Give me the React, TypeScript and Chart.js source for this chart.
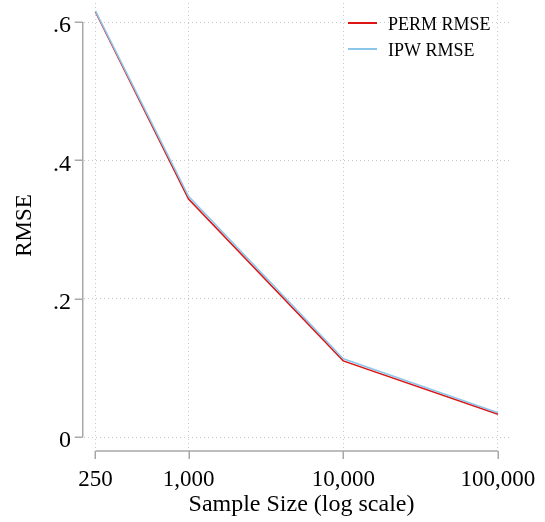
import React, { useEffect, useRef } from "react";
import { Chart, registerables } from "chart.js";

Chart.register(...registerables);

// ---- data ----
const sampleSizes = [250, 1000, 10000, 100000];
const permRmse = [0.615, 0.344, 0.110, 0.033];
const ipwRmse = [0.616, 0.348, 0.113, 0.035];
const xTickValues = [250, 1000, 10000, 100000];
const yTickValues = [0, 0.2, 0.4, 0.6];
const seriesLabels = ["PERM RMSE", "IPW RMSE"];
const seriesColors = ["#dc1414", "#8cc6ea"];
const xTitle = "Sample Size (log scale)";
const yTitle = "RMSE";

const FONT = "'Liberation Serif', 'Times New Roman', serif";
const AXIS_COLOR = "#a8a8a8";
const GRID_COLOR = "#c8c8c8";

const fmtY = (n: number) => (n === 0 ? "0" : n.toFixed(1).replace(/^0/, ""));

const stataPlugin = {
  id: "stataAxesLegend",
  afterDraw(chart: any) {
    const { ctx, chartArea } = chart;
    const x = chart.scales.x;
    const y = chart.scales.y;
    ctx.save();
    ctx.strokeStyle = AXIS_COLOR;
    ctx.lineWidth = 1.5;
    ctx.beginPath();
    const axX = chartArea.left - 1.25;
    ctx.moveTo(axX, y.getPixelForValue(yTickValues[yTickValues.length - 1]));
    ctx.lineTo(axX, y.getPixelForValue(yTickValues[0]));
    for (const v of yTickValues) {
      const py = Math.round(y.getPixelForValue(v)) + 0.25;
      ctx.moveTo(axX - 8, py);
      ctx.lineTo(axX, py);
    }
    const axY = chartArea.bottom + 3;
    ctx.moveTo(x.getPixelForValue(xTickValues[0]), axY);
    ctx.lineTo(x.getPixelForValue(xTickValues[xTickValues.length - 1]), axY);
    for (const v of xTickValues) {
      const px = Math.round(x.getPixelForValue(v)) + 0.25;
      ctx.moveTo(px, axY);
      ctx.lineTo(px, axY + 8);
    }
    ctx.stroke();

    // y tick labels (Stata places them slightly below the tick)
    ctx.fillStyle = "#000";
    ctx.font = `24px ${FONT}`;
    ctx.textAlign = "right";
    ctx.textBaseline = "middle";
    for (const v of yTickValues) {
      ctx.fillText(fmtY(v), chartArea.left - 13, y.getPixelForValue(v) + 4);
    }

    // x axis title
    ctx.font = `24px ${FONT}`;
    ctx.textAlign = "center";
    ctx.textBaseline = "middle";
    ctx.fillText(xTitle, (chartArea.left + chartArea.right) / 2 + 5, 505);

    // legend (inside plot, top right)
    const datasets = chart.data.datasets;
    ctx.font = `18px ${FONT}`;
    ctx.textBaseline = "alphabetic";
    ctx.textAlign = "left";
    const lineX0 = 348;
    const lineX1 = 377;
    datasets.forEach((ds: any, i: number) => {
      const ly = 23 + i * 26;
      ctx.strokeStyle = ds.borderColor;
      ctx.lineWidth = 2;
      ctx.beginPath();
      ctx.moveTo(lineX0, ly);
      ctx.lineTo(lineX1, ly);
      ctx.stroke();
      ctx.fillText(ds.label, 388, ly + 7);
    });
    ctx.restore();
  },
};

export default function App() {
  const canvasRef = useRef<HTMLCanvasElement | null>(null);

  useEffect(() => {
    if (!canvasRef.current) return;
    const mk = (vals: number[]) => sampleSizes.map((s, i) => ({ x: s, y: vals[i] }));
    const chart = new Chart(canvasRef.current, {
      type: "line",
      data: {
        datasets: [
          {
            label: seriesLabels[0],
            data: mk(permRmse),
            borderColor: seriesColors[0],
            backgroundColor: seriesColors[0],
            borderWidth: 1.6,
            pointRadius: 0,
            tension: 0,
            order: 1,
          },
          {
            label: seriesLabels[1],
            data: mk(ipwRmse),
            borderColor: seriesColors[1],
            backgroundColor: seriesColors[1],
            borderWidth: 1.6,
            pointRadius: 0,
            tension: 0,
            order: 0,
          },
        ],
      },
      options: {
        animation: false,
        responsive: false,
        maintainAspectRatio: false,
        devicePixelRatio: 1,
        layout: { padding: { top: 3, right: 36, left: 0, bottom: 0 } },
        plugins: {
          legend: { display: false },
          tooltip: { enabled: false },
        },
        scales: {
          x: {
            type: "logarithmic",
            min: 211,
            max: 117800,
            afterBuildTicks: (s: any) => {
              s.ticks = xTickValues.map((v) => ({ value: v }));
            },
            afterFit: (s: any) => {
              s.height = 74;
              s.paddingLeft = 0;
              s.paddingRight = 0;
            },
            grid: {
              color: GRID_COLOR,
              lineWidth: 1,
              drawTicks: false,
              tickLength: 0,
              borderDash: [1, 3],
            } as any,
            border: { display: false, dash: [1, 3] },
            ticks: {
              autoSkip: false,
              maxRotation: 0,
              minRotation: 0,
              padding: 18,
              color: "#000",
              font: { family: FONT, size: 23 },
              callback: (v: any) => Number(v).toLocaleString("en-US"),
            },
            title: { display: false },
          },
          y: {
            type: "linear",
            min: -0.0159,
            max: 0.6275,
            afterBuildTicks: (s: any) => {
              s.ticks = yTickValues.map((v) => ({ value: v }));
            },
            afterFit: (s: any) => {
              s.width = 84;
              s.paddingTop = 0;
              s.paddingBottom = 0;
            },
            grid: {
              color: GRID_COLOR,
              lineWidth: 1,
              drawTicks: false,
              tickLength: 0,
              borderDash: [1, 3],
            } as any,
            border: { display: false, dash: [1, 3] },
            ticks: {
              display: false,
              padding: 13,
              font: { family: FONT, size: 24 },
            },
            title: {
              display: true,
              text: yTitle,
              color: "#000",
              font: { family: FONT, size: 23 },
              padding: { top: 11, bottom: 0 },
            },
          },
        },
      },
      plugins: [stataPlugin],
    } as any);
    return () => chart.destroy();
  }, []);

  return (
    <div style={{ position: "fixed", left: 0, top: 0, width: 545, height: 522, background: "#fff" }}>
      <canvas ref={canvasRef} width={545} height={522} style={{ width: 545, height: 522, display: "block" }} />
    </div>
  );
}
